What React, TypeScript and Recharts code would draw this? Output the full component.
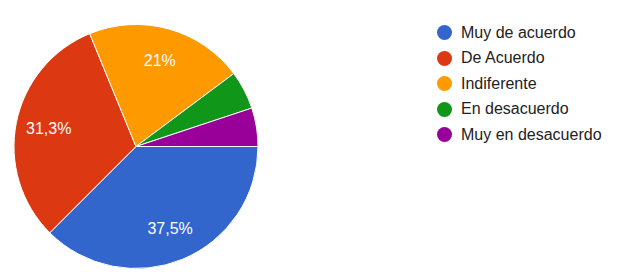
import React from "react"
import { PieChart, Pie, Cell, Legend } from "recharts"

const categories = ["Muy de acuerdo", "De Acuerdo", "Indiferente", "En desacuerdo", "Muy en desacuerdo"]
const values = [37.5, 31.3, 21, 5.1, 5.1]
const labels = ["37,5%", "31,3%", "21%", "", ""]
const colors = ["#3366cc", "#dc3912", "#ff9900", "#109618", "#990099"]

const data = categories.map((name, i) => ({ name, value: values[i], label: labels[i] }))

const RADIAN = Math.PI / 180
const FONT = "Arial, 'Liberation Sans', sans-serif"

const renderLabel = (props: any) => {
  const { cx, cy, midAngle, outerRadius, index } = props
  const text = data[index]?.label
  if (!text) return null
  const r = outerRadius * 0.73
  const x = cx + r * Math.cos(-midAngle * RADIAN)
  const y = cy + r * Math.sin(-midAngle * RADIAN)
  return (
    <text x={x} y={y} fill="#ffffff" fontSize={16} fontFamily={FONT} textAnchor="middle" dominantBaseline="central">
      {text}
    </text>
  )
}

const LegendContent = () => (
  <div style={{ fontFamily: FONT }}>
    {data.map((d, i) => (
      <div key={d.name} style={{ display: "flex", alignItems: "center", height: 25.5 }}>
        <span
          style={{ display: "inline-block", width: 15, height: 15, borderRadius: "50%", background: colors[i], marginRight: 9 }}
        />
        <span style={{ fontSize: 16, color: "#222222" }}>{d.name}</span>
      </div>
    ))}
  </div>
)

export default function App() {
  return (
    <div style={{ position: "fixed", left: 0, top: 0, width: 622, height: 272, background: "#fff" }}>
      <PieChart width={622} height={272} margin={{ top: 0, right: 0, bottom: 0, left: 0 }}>
        <Pie
          data={data}
          dataKey="value"
          nameKey="name"
          cx={136}
          cy={146.5}
          outerRadius={122}
          startAngle={0}
          endAngle={-360}
          stroke="#ffffff"
          strokeWidth={1}
          label={renderLabel}
          labelLine={false}
          isAnimationActive={false}
        >
          {data.map((d, i) => (
            <Cell key={`c-${i}`} fill={colors[i]} />
          ))}
        </Pie>
        <Legend
          layout="vertical"
          content={<LegendContent />}
          wrapperStyle={{ position: "absolute", left: 437, top: 20, width: 185 }}
        />
      </PieChart>
    </div>
  )
}
